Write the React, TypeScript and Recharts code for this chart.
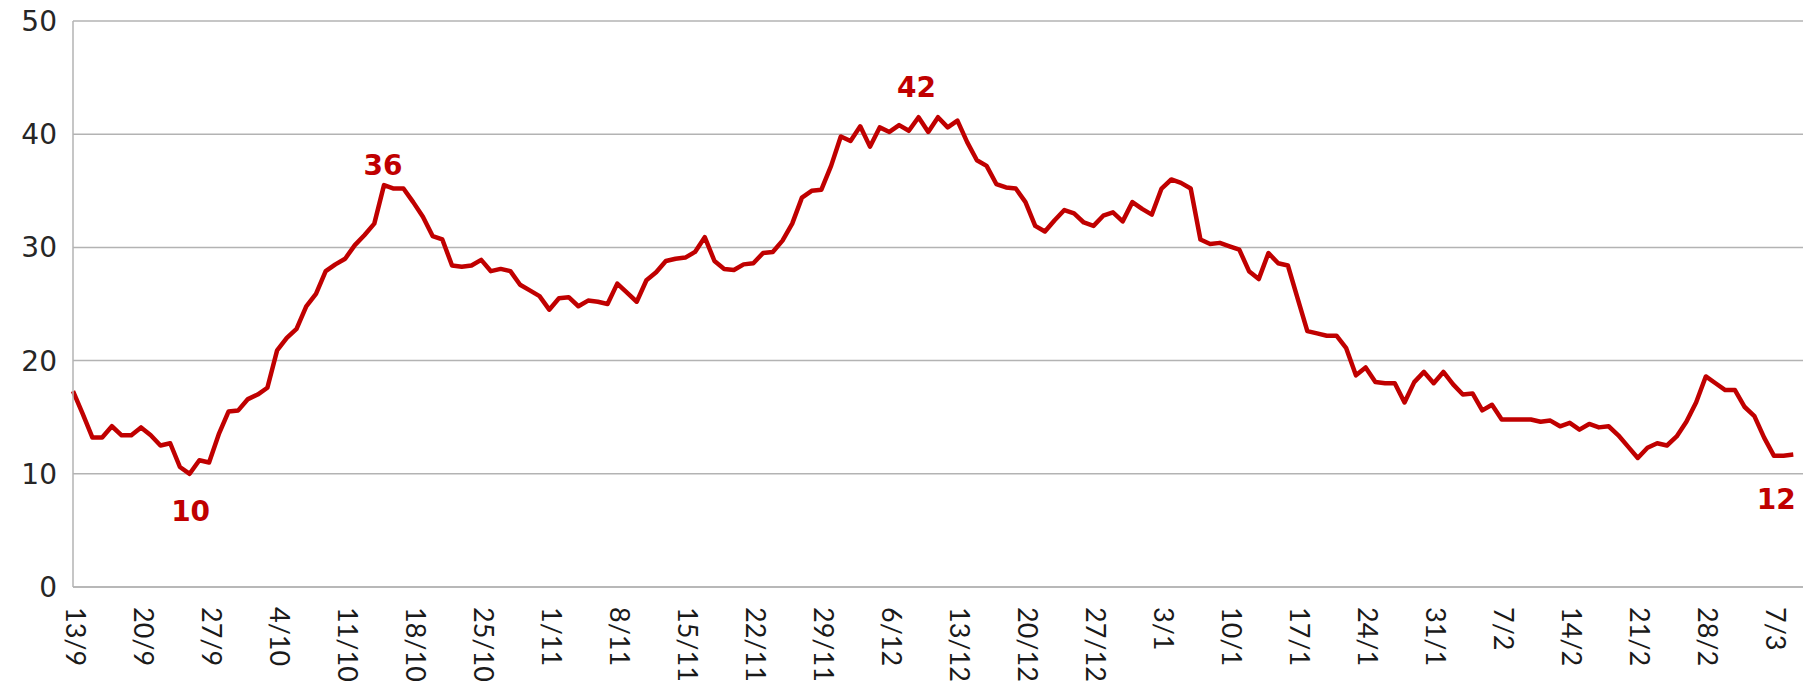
import React from "react";
import { LineChart, Line, XAxis, YAxis, CartesianGrid } from "recharts";

// weekly tick labels, one per 7 days starting 13/9
const tickLabels = [
  "13/9", "20/9", "27/9", "4/10", "11/10", "18/10", "25/10", "1/11", "8/11",
  "15/11", "22/11", "29/11", "6/12", "13/12", "20/12", "27/12", "3/1", "10/1",
  "17/1", "24/1", "31/1", "7/2", "14/2", "21/2", "28/2", "7/3",
];

// daily values, 13/9 .. 9/3
const values = [
  17.3, 15.3, 13.2, 13.2, 14.2, 13.4, 13.4, 14.1, 13.4, 12.5,
  12.7, 10.6, 10.0, 11.2, 11.0, 13.5, 15.5, 15.6, 16.6, 17.0,
  17.6, 20.9, 22.0, 22.8, 24.8, 25.9, 27.9, 28.5, 29.0, 30.2,
  31.1, 32.1, 35.5, 35.2, 35.2, 34.0, 32.7, 31.0, 30.7, 28.4,
  28.3, 28.4, 28.9, 27.9, 28.1, 27.9, 26.7, 26.2, 25.7, 24.5,
  25.5, 25.6, 24.8, 25.3, 25.2, 25.0, 26.8, 26.0, 25.2, 27.1,
  27.8, 28.8, 29.0, 29.1, 29.6, 30.9, 28.8, 28.1, 28.0, 28.5,
  28.6, 29.5, 29.6, 30.6, 32.1, 34.4, 35.0, 35.1, 37.2, 39.8,
  39.4, 40.7, 38.9, 40.6, 40.2, 40.8, 40.3, 41.5, 40.2, 41.5,
  40.6, 41.2, 39.3, 37.7, 37.2, 35.6, 35.3, 35.2, 34.0, 31.9,
  31.4, 32.4, 33.3, 33.0, 32.2, 31.9, 32.8, 33.1, 32.3, 34.0,
  33.4, 32.9, 35.2, 36.0, 35.7, 35.2, 30.7, 30.3, 30.4, 30.1,
  29.8, 27.9, 27.2, 29.5, 28.6, 28.4, 25.5, 22.6, 22.4, 22.2,
  22.2, 21.1, 18.7, 19.4, 18.1, 18.0, 18.0, 16.3, 18.1, 19.0,
  18.0, 19.0, 17.9, 17.0, 17.1, 15.6, 16.1, 14.8, 14.8, 14.8,
  14.8, 14.6, 14.7, 14.2, 14.5, 13.9, 14.4, 14.1, 14.2, 13.4,
  12.4, 11.4, 12.3, 12.7, 12.5, 13.3, 14.6, 16.3, 18.6, 18.0,
  17.4, 17.4, 15.9, 15.1, 13.2, 11.6, 11.6, 11.7,
];

// days that carry a value label (min / peaks / last)
const labelledDays = [12, 32, 87, 177];

const yTicks = [0, 10, 20, 30, 40, 50];

const data = values.map((v, i) => ({ day: i, value: v }));
const tickDays = tickLabels.map((_, i) => i * 7);

const RED = "#C00000";
const GRID = "#b3b3b3";

// label offsets relative to the point
const labelOffset: Record<number, { dx: number; dy: number }> = {
  12: { dx: 1, dy: 47 },
  32: { dx: -1, dy: -10 },
  87: { dx: -2, dy: -20 },
  177: { dx: -17, dy: 54 },
};

function DayTick({ x, y, payload }: any) {
  const label = tickLabels[Math.round(payload.value / 7)];
  return (
    <text
      transform={`translate(${x + 3},${y}) rotate(90)`}
      textAnchor="start"
      dominantBaseline="central"
      fill="#1a1a1a"
      fontSize={27}
      fontFamily="Lato, 'Open Sans', sans-serif"
    >
      {label}
    </text>
  );
}

function ValueLabel(props: any) {
  const { cx, cy, index, value } = props;
  if (!labelledDays.includes(index)) return <g key={`d${index}`} />;
  const off = labelOffset[index] || { dx: 0, dy: -10 };
  return (
    <text
      key={`d${index}`}
      x={cx + off.dx}
      y={cy + off.dy}
      textAnchor="middle"
      fill={RED}
      fontSize={28}
      fontWeight="bold"
      fontFamily="'DejaVu Sans', sans-serif"
    >
      {Math.round(value)}
    </text>
  );
}

export default function App() {
  return (
    <div style={{ position: "absolute", left: 0, top: 0, background: "#fff" }}>
      <LineChart
        width={1803}
        height={684}
        data={data}
        margin={{ top: 21, right: 0, bottom: 0, left: 0 }}
      >
        <CartesianGrid vertical={false} stroke={GRID} strokeWidth={1.5} />
        <XAxis
          type="number"
          dataKey="day"
          domain={[0, 178]}
          ticks={tickDays}
          interval={0}
          tickLine={false}
          tickSize={0}
          tickMargin={20}
          axisLine={{ stroke: GRID, strokeWidth: 1.5 }}
          height={97}
          tick={<DayTick />}
        />
        <YAxis
          domain={[0, 50]}
          ticks={yTicks}
          interval={0}
          width={73}
          tickLine={false}
          tickSize={0}
          tickMargin={16}
          axisLine={{ stroke: GRID, strokeWidth: 1.5 }}
          tick={{ fill: "#262626", fontSize: 28, fontFamily: "'DejaVu Sans', sans-serif" }}
        />
        <Line
          type="linear"
          dataKey="value"
          stroke={RED}
          strokeWidth={4.5}
          strokeLinejoin="round"
          dot={ValueLabel}
          activeDot={false}
          isAnimationActive={false}
        />
      </LineChart>
    </div>
  );
}
